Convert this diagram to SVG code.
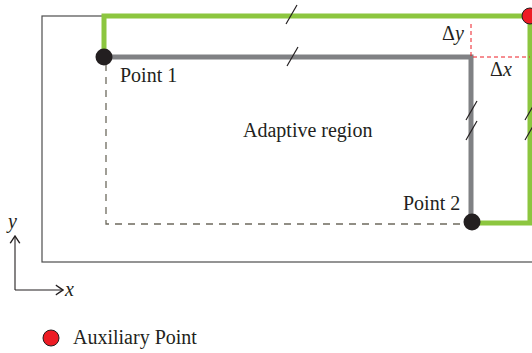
<svg xmlns="http://www.w3.org/2000/svg" width="532" height="353" viewBox="0 0 532 353">
<style>
text{font-family:"Liberation Serif","DejaVu Serif",serif;fill:#231f20}
.lbl{font-size:20px}
.it{font-style:italic}
.tick{stroke:#231f20;stroke-width:1.2;fill:none}
.ax{stroke:#231f20;stroke-width:1.1;fill:none}
</style>
<defs>
<marker id="arr" viewBox="0 0 10 10" refX="9" refY="5" markerWidth="9" markerHeight="12" orient="auto" markerUnits="userSpaceOnUse" preserveAspectRatio="none">
<path d="M1,1 L9,5 L1,9" fill="none" stroke="#231f20" stroke-width="1.2"/>
</marker>
</defs>
<g id="frame">
<rect x="42" y="16" width="520" height="246" fill="none" stroke="#4d4d4d" stroke-width="1.2"/>
</g>
<g id="connectors">
<path d="M106,64 V224 H466" fill="none" stroke="#6d6a5e" stroke-width="1.3" stroke-dasharray="7,6"/>
<path d="M104,57 V16 H530 V223 H472" fill="none" stroke="#8cc63f" stroke-width="5"/>
<path d="M104,57 H471 V223" fill="none" stroke="#808184" stroke-width="5"/>
<path d="M471,24 V57 H530" fill="none" stroke="#ed1c24" stroke-width="1" stroke-dasharray="4,3"/>
<path class="tick" d="M286,24 L297,5"/>
<path class="tick" d="M287,66 L298,47"/>
<path class="tick" d="M466,120 L477,101"/>
<path class="tick" d="M466,140 L477,121"/>
<path class="tick" d="M525,120 L536,101"/>
<path class="tick" d="M525,140 L536,121"/>
</g>
<g id="point1">
<circle cx="104" cy="57" r="8.5" fill="#231f20"/>
<text class="lbl" x="120" y="82">Point 1</text>
</g>
<g id="point2">
<circle cx="472" cy="222" r="8.5" fill="#231f20"/>
<text class="lbl" x="403" y="210">Point 2</text>
</g>
<g id="aux">
<circle cx="530" cy="16" r="8" fill="#ed1c24" stroke="#231f20" stroke-width="1"/>
</g>
<g id="region">
<text class="lbl" x="243" y="137">Adaptive region</text>
</g>
<g id="deltas">
<text class="lbl" x="442" y="40">Δ<tspan class="it">y</tspan></text>
<text class="lbl" x="490" y="76">Δ<tspan class="it">x</tspan></text>
</g>
<g id="axes">
<path class="ax" d="M15,290 V236" marker-end="url(#arr)"/>
<path class="ax" d="M15,290 H63" marker-end="url(#arr)"/>
<text class="lbl it" x="8" y="228">y</text>
<text class="lbl it" x="65" y="296">x</text>
</g>
<g id="legend">
<circle cx="51" cy="338" r="8" fill="#ed1c24" stroke="#231f20" stroke-width="1"/>
<text class="lbl" x="73" y="344">Auxiliary Point</text>
</g>
</svg>
